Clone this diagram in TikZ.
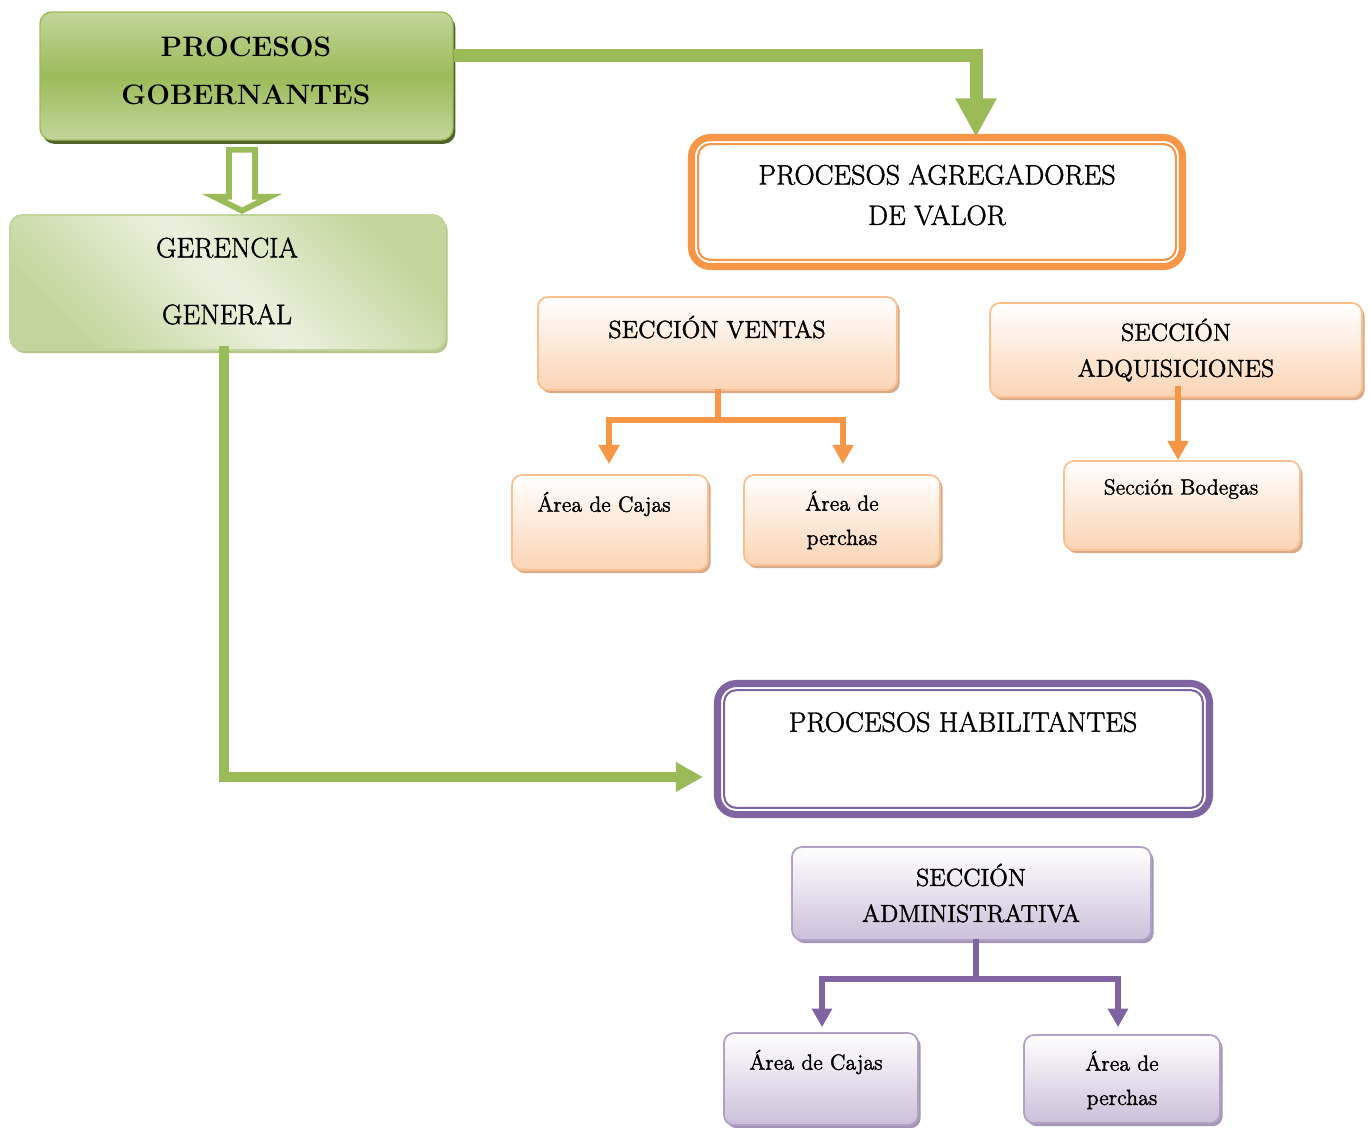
\documentclass[tikz,border=0pt]{standalone}
\usepackage{fontspec}
\setmainfont{Latin Modern Roman}
\newfontfamily\heavyrm{Latin Modern Roman}[FakeBold=1.5]
\usetikzlibrary{arrows.meta,shadows,calc}
\definecolor{gmain}{HTML}{9BBB59}
\definecolor{glight}{HTML}{C2D69B}
\definecolor{gpale}{HTML}{EBF1DE}
\definecolor{gdark}{HTML}{4F6228}
\definecolor{gshade}{HTML}{B3C68E}
\definecolor{omain}{HTML}{F79646}
\definecolor{opale}{HTML}{FBD4B4}
\definecolor{oline}{HTML}{FAC090}
\definecolor{oshade}{HTML}{D7AA8B}
\definecolor{pmain}{HTML}{8064A2}
\definecolor{ppale}{HTML}{CCC0DA}
\definecolor{pline}{HTML}{B2A1C7}
\definecolor{pshade}{HTML}{A596B5}
\tikzset{
    sz/.style 2 args={minimum width=#1*0.02cm, minimum height=#2*0.02cm},
    frame/.style={box, rounded corners=0.38cm, draw=#1, line width=4pt, fill=white}
}

\begin{document}
\begin{tikzpicture}[
    x=0.02cm, y=-0.02cm,
    box/.style={rectangle, rounded corners=0.2cm, inner sep=0pt},
    obox/.style={box, draw=oline, line width=1pt, top color=white, bottom color=opale,
        general shadow={fill=oshade, shadow xshift=1.5pt, shadow yshift=-1.8pt}},
    pbox/.style={box, draw=pline, line width=1pt, top color=white, bottom color=ppale,
        general shadow={fill=pshade, shadow xshift=1.5pt, shadow yshift=-1.8pt}},
    big/.style={font=\heavyrm\fontsize{16}{23}\selectfont, align=center},
    mid/.style={font=\heavyrm\fontsize{14}{20.5}\selectfont, align=center},
    small/.style={font=\heavyrm\fontsize{12.5}{19.5}\selectfont, align=center},
    otree/.style={omain, line width=3.4pt, -{Triangle[length=11pt,width=11.5pt]}},
    ptree/.style={pmain, line width=3.4pt, -{Triangle[length=10.5pt,width=11pt]}}
]
    \useasboundingbox (0,0) rectangle (1370,1127);

    % governing processes
    \node[box, sz={413}{128}, rounded corners=0.24cm, draw=gmain, line width=0.8pt,
        top color=glight, bottom color=glight, middle color=gmain,
        general shadow={fill=gdark, shadow xshift=1.4pt, shadow yshift=-2.2pt}] (pg) at (246.5,76) {};
    \node[font=\fontsize{16}{27}\selectfont\bfseries, align=center] (pg-t) at (246,71) {PROCESOS\\GOBERNANTES};

    \node[box, sz={435}{135}, rounded corners=0.24cm, draw=glight, line width=1pt,
        left color=glight, right color=glight, middle color=gpale, shading angle=-45,
        general shadow={fill=gshade, shadow xshift=1.5pt, shadow yshift=-1.8pt}] (gg) at (227.5,282.5) {};
    \node[font=\heavyrm\fontsize{16}{38}\selectfont, align=center] (gg-t) at (227,281) {GERENCIA\\GENERAL};

    % value adding processes
    \node[frame=omain, sz={491}{129}] (agv) at (937,202) {};
    \draw[omain, line width=1.2pt, rounded corners=0.24cm] ([shift={(5.8pt,5.8pt)}]agv.south west) rectangle ([shift={(-5.8pt,-5.8pt)}]agv.north east);
    \node[big] (agv-t) at (937,195) {PROCESOS AGREGADORES\\DE VALOR};

    \node[obox, sz={359}{93}] (sv) at (717.5,343.5) {};
    \node[mid] (sv-t) at (717,327) {SECCIÓN VENTAS};
    \node[obox, sz={196}{95}] (ac1) at (610,522.5) {};
    \node[small] (ac1-t) at (604,504) {Área de Cajas};
    \node[obox, sz={196}{90}] (ap1) at (842,520) {};
    \node[small] (ap1-t) at (842,520) {Área de\\perchas};

    \node[obox, sz={372}{94}] (sa) at (1176,350) {};
    \node[mid] (sa-t) at (1176,350) {SECCIÓN\\ADQUISICIONES};
    \node[obox, sz={236}{89}] (sb) at (1182,505.5) {};
    \node[small] (sb-t) at (1181,489) {Sección Bodegas};

    % enabling processes
    \node[frame=pmain, sz={492}{131}] (ph) at (963.5,749) {};
    \draw[pmain, line width=1.2pt, rounded corners=0.24cm] ([shift={(5.8pt,5.8pt)}]ph.south west) rectangle ([shift={(-5.8pt,-5.8pt)}]ph.north east);
    \node[big] (ph-t) at (963,722) {PROCESOS HABILITANTES};

    \node[pbox, sz={359}{93}] (sad) at (971.5,893.5) {};
    \node[mid] (sad-t) at (971,893) {SECCIÓN\\ADMINISTRATIVA};
    \node[pbox, sz={194}{92}] (ac2) at (821,1079) {};
    \node[small] (ac2-t) at (816,1062) {Área de Cajas};
    \node[pbox, sz={196}{88}] (ap2) at (1122,1079) {};
    \node[small] (ap2-t) at (1122,1080) {Área de\\perchas};

    % connectors
    \draw[gmain, line width=7.4pt, -{Triangle[length=22pt,width=22pt]}] ([shift={(0,-21)}]pg.east) -| ([shift={(39,3)}]agv.north);
    \draw[gmain, line width=5.7pt, -{Triangle[length=15.5pt,width=16pt]}] ([shift={(-3.5,-5)}]gg.south) |- ([shift={(-11,28)}]ph.west);
    \coordinate (ha) at ([shift={(-4.5,9)}]pg.south);
    \draw[gmain, line width=3.3pt, fill=white] (ha) ++(-13,0) -- ++(26,0) -- ++(0,47) -- ++(15,0) -- ++(-28,14) -- ++(-28,-14) -- ++(15,0) -- cycle;

    \draw[otree] ([shift={(0.5,-2)}]sv.south) -- ++(0,31) -| ([shift={(-1,-10)}]ac1.north);
    \draw[otree] ([shift={(0.5,-2)}]sv.south) -- ++(0,31) -| ([shift={(1,-10)}]ap1.north);
    \coordinate (sab) at ([shift={(2,-12)}]sa.south);
    \draw[otree] (sab) -- (sab |- sb.north);

    \draw[ptree] ([shift={(4.5,-2)}]sad.south) -- ++(0,40) -| ([shift={(1,-5)}]ac2.north);
    \draw[ptree] ([shift={(4.5,-2)}]sad.south) -- ++(0,40) -| ([shift={(-4,-7)}]ap2.north);
\end{tikzpicture}
\end{document}
